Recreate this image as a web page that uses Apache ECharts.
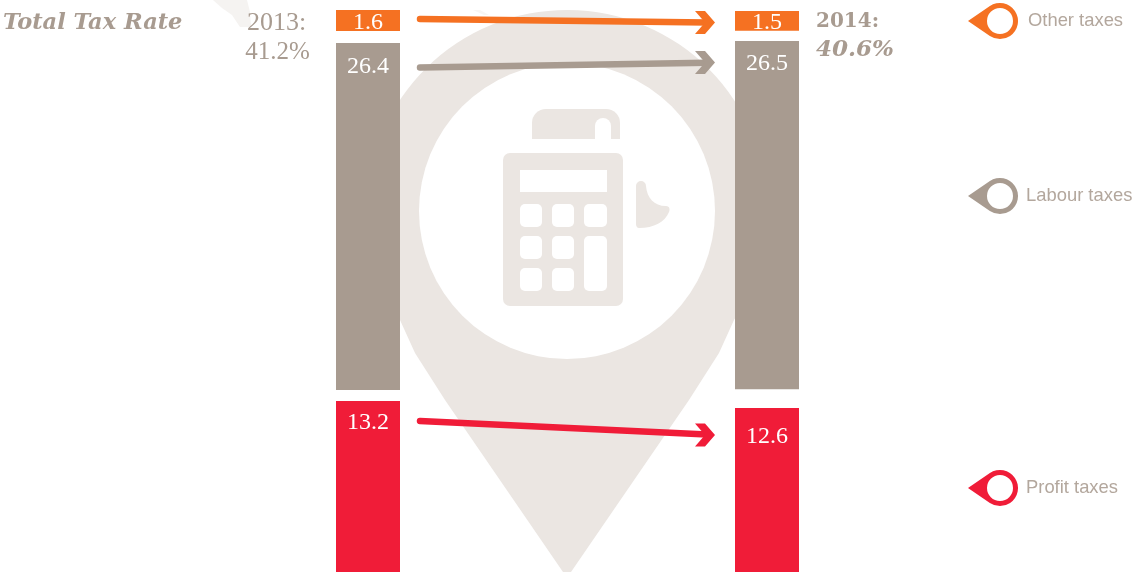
<!DOCTYPE html>
<html><head><meta charset="utf-8">
<style>html,body{margin:0;padding:0;background:#fff}#c{width:1136px;height:572px}</style>
<script src="https://cdn.jsdelivr.net/npm/echarts@6/dist/echarts.min.js"></script>
</head><body><div id="c"></div>
<script>
// ---- data ----
const years = ['2013', '2014'];
const taxNames = ['Other taxes', 'Labour taxes', 'Profit taxes'];
const otherTaxes = [1.6, 1.5];
const labourTaxes = [26.4, 26.5];
const profitTaxes = [13.2, 12.6];
const totalLabels = ['41.2%', '40.6%'];
const pageTitle = 'Total Tax Rate';

// ---- styles / layout ----
const W = 1136, H = 572;
const ORANGE = '#F57122', TAUPE = '#A89B90', RED = '#F01C38', PALE = '#EBE6E2', FAINT = '#F5F3F1';
const TEXT = '#A89B90', LEGEND_TEXT = '#B3A79D';
const SERIF = '"Liberation Serif", serif', SANS = '"Liberation Sans", sans-serif', SLAB = '"DejaVu Serif", serif';
const colors = [ORANGE, TAUPE, RED];
const pxPerUnit = 13.14;
const segTopPx = [[10, 11], [43, 41], [401, 408]];
const labelDy = [[1, 0], [12, 11], [9.5, 16.5]];
const arrowDy = [[9, 11.5], [24.5, 21.5], [20, 27]];
const arrowInset = 52;
const values = [otherTaxes, labourTaxes, profitTaxes];

// transparent spacers hold the gaps between the stacked segments
function spacer(seg) {
  return years.map((_, i) => {
    const prevBottom = seg === 0 ? 0 : segTopPx[seg - 1][i] / pxPerUnit + values[seg - 1][i];
    return segTopPx[seg][i] / pxPerUnit - prevBottom;
  });
}

// ---- decorative background ----
function rr(x, y, w, h, r, fill) {
  return { type: 'rect', shape: { x, y, width: w, height: h, r }, style: { fill } };
}
function backdrop() {
  return [
    { type: 'polygon', shape: { points: [[213, 0], [247, 0], [250, 12], [251, 27], [240, 27], [232, 15], [222, 8]] }, style: { fill: FAINT } },
    { type: 'path', shape: { pathData: 'M400 320 A200 200 0 1 1 734 320 L719 353 L689 400 L571 572 L563 572 L445 400 L415 353 Z' }, style: { fill: PALE } },
    { type: 'polygon', shape: { points: [[473, 10], [480, 10], [489, 15], [484, 15]] }, style: { fill: '#F8F6F5' } },
    { type: 'circle', shape: { cx: 567, cy: 211, r: 148 }, style: { fill: '#fff' } },
    // paper roll
    { type: 'path', shape: { pathData: 'M532 139 L532 123 A14 14 0 0 1 546 109 L606 109 A14 14 0 0 1 620 123 L620 139 Z' }, style: { fill: PALE } },
    { type: 'path', shape: { pathData: 'M595 139 L595 126 A8 8 0 0 1 611 126 L611 139 Z' }, style: { fill: '#fff' } },
    // body
    rr(503, 153, 120, 153, 7, PALE),
    rr(520, 170, 87, 22, 0, '#fff'),
    rr(520, 204, 22, 23, 5, '#fff'), rr(552, 204, 22, 23, 5, '#fff'), rr(584, 204, 23, 23, 5, '#fff'),
    rr(520, 236, 22, 23, 5, '#fff'), rr(552, 236, 22, 23, 5, '#fff'), rr(584, 236, 23, 55, 5, '#fff'),
    rr(520, 268, 22, 23, 5, '#fff'), rr(552, 268, 22, 23, 5, '#fff'),
    // hand
    { type: 'path', shape: { pathData: 'M636 186 A5 5 0 0 1 646 186 C647 198 654 206 666 206 C670 206 670 210 669 212 C665 222 654 228 639 228 C637 228 636 226 636 224 Z' }, style: { fill: PALE } }
  ];
}

const series = [{
  type: 'custom', name: 'backdrop', coordinateSystem: 'none', silent: true, z: 1, clip: false,
  data: [[0]],
  renderItem() { return { type: 'group', children: backdrop() }; }
}];
taxNames.forEach((name, s) => {
  series.push({
    type: 'bar', name: 'gap' + s, stack: 't', barWidth: 64, silent: true,
    itemStyle: { color: 'rgba(0,0,0,0)' }, data: spacer(s), z: 3
  });
  series.push({
    type: 'bar', name, stack: 't', barWidth: 64, z: 3,
    itemStyle: { color: colors[s] },
    label: {
      show: true, position: 'insideTop', distance: 0, color: '#fff',
      fontFamily: SERIF, fontSize: 24, lineHeight: 24,
      formatter: p => p.value.toFixed(1)
    },
    data: values[s].map((v, i) => ({ value: v, label: { offset: [0, labelDy[s][i]] } }))
  });
});

// arrows between the two years, anchored on the axis scales
series.push({
  type: 'custom', name: 'arrows', silent: true, z: 4, clip: false,
  coordinateSystem: 'cartesian2d',
  data: taxNames.map((_, s) => [s, segTopPx[s][0] / pxPerUnit, segTopPx[s][1] / pxPerUnit]),
  encode: { x: -1, y: [1, 2] },
  renderItem(params, api) {
    const s = api.value(0);
    const a = api.coord([0, api.value(1)]);
    const b = api.coord([1, api.value(2)]);
    const x0 = a[0] + arrowInset, y0 = a[1] + arrowDy[s][0];
    const x1 = b[0] - arrowInset, y1 = b[1] + arrowDy[s][1];
    const c = colors[s];
    const t = (x1 - 8 - x0) / (x1 - x0);
    return {
      type: 'group', children: [
        { type: 'line', shape: { x1: x0, y1: y0, x2: x0 + (x1 - x0) * t, y2: y0 + (y1 - y0) * t },
          style: { stroke: c, lineWidth: 6.5, lineCap: 'round' } },
        { type: 'polygon', shape: { points: [
            [x1 - 20, y1 - 11.5], [x1 - 10, y1 - 11.5], [x1, y1], [x1 - 10, y1 + 11.5], [x1 - 20, y1 + 11.5], [x1 - 10, y1]
          ] }, style: { fill: c } }
      ]
    };
  }
});

function txt(text, x, y, font, align) {
  return { type: 'text', x, y, z: 5, silent: true,
    style: { text, fill: TEXT, font, textAlign: align || 'left', textVerticalAlign: 'middle' } };
}
const texts = [
  txt(years[0] + ':', 276.5, 23, '26px ' + SERIF, 'center'),
  txt(totalLabels[0], 277.5, 52, '25px ' + SERIF, 'center'),
  txt(years[1] + ':', 816, 22, 'bold 20px ' + SLAB),
  txt(totalLabels[1], 816, 50, 'italic bold 23px ' + SLAB)
];

const pin = 'path://M0 18 L21.9 3.1 A18 18 0 1 1 21.9 32.9 Z M32 5 A13 13 0 0 0 32 31 A13 13 0 0 0 32 5 Z';
const legendTops = [3, 178, 470];
const legendPad = [5, 3, 3];

const chart = echarts.init(document.getElementById('c'), null, { renderer: 'canvas' });
chart.setOption({
  animation: false,
  backgroundColor: '#fff',
  title: {
    text: pageTitle, left: 3, top: 9, padding: 0,
    textStyle: { color: TEXT, fontFamily: SLAB, fontStyle: 'italic', fontWeight: 'bold', fontSize: 22.5, lineHeight: 28 }
  },
  grid: { left: 168.5, width: 798, top: 0, height: H, containLabel: false },
  xAxis: { type: 'category', data: years, show: false },
  yAxis: { type: 'value', inverse: true, min: 0, max: H / pxPerUnit, show: false },
  legend: taxNames.map((n, i) => ({
    data: [n], left: 968, top: legendTops[i], padding: 0, orient: 'vertical',
    itemWidth: 50, itemHeight: 36, icon: pin, selectedMode: false,
    textStyle: { color: LEGEND_TEXT, fontFamily: SANS, fontSize: 18.4, padding: [0, 0, 0, legendPad[i]] }
  })),
  graphic: { elements: texts },
  series
});
</script></body></html>
